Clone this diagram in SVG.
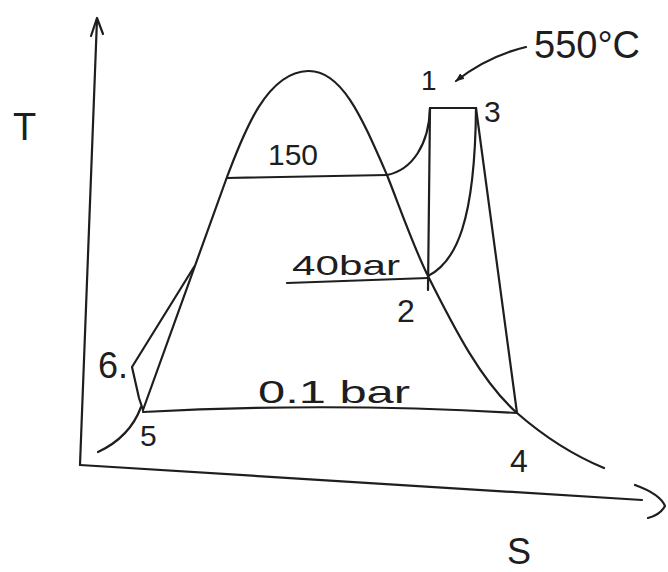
<svg xmlns="http://www.w3.org/2000/svg" width="668" height="572" viewBox="0 0 668 572">
<defs>
<style>
.ln{fill:none;stroke:#1e1e1e;stroke-width:2.2;stroke-linecap:round;stroke-linejoin:round}
.lb{font-family:"Liberation Sans",Arial,sans-serif;fill:#1e1e1e}
</style>
<marker id="ah" viewBox="0 0 10 10" refX="9" refY="5" markerWidth="9" markerHeight="9" orient="auto" markerUnits="userSpaceOnUse">
<path d="M0,1 L10,5 L0,9 Z" fill="#1e1e1e"/>
</marker>
</defs>
<rect width="668" height="572" fill="#ffffff"/>
<g id="axes">
<path class="ln" d="M80,465 L97,19"/>
<path class="ln" d="M91,36 L97,18 L103,34"/>
<path class="ln" d="M80,465 L642,500"/>
<path class="ln" d="M635,485 Q660,494 665,506 Q660,515 648,518"/>
</g>
<g id="dome">
<path class="ln" d="M143,410 L227,177 C242,138 265,72 308,71 C342,70 362,118 387,175 C400,208 414,248 428,276 C455,330 482,382 517,413 C548,440 575,456 604,468"/>
<path class="ln" d="M141,407 Q130,437 98,452"/>
</g>
<g id="cycle">
<path class="ln" d="M227,178 L387,175"/>
<path class="ln" d="M387,175 C412,170 429,145 430,108"/>
<path class="ln" d="M430,108 L476,108"/>
<path class="ln" d="M430,108 L428,290"/>
<path class="ln" d="M428,276 C456,262 475,222 476,108"/>
<path class="ln" d="M476,108 L517,413"/>
<path class="ln" d="M287,283 L428,278"/>
<path class="ln" d="M143,412 Q330,402 517,413"/>
<path class="ln" d="M143,410 L139,398 L132,367 L194,267"/>
</g>
<g id="connectors">
<path class="ln" d="M526,47 Q488,56 456,81" marker-end="url(#ah)"/>
</g>
<g id="labels">
<text class="lb" x="13" y="140" font-size="38">T</text>
<text class="lb" x="534" y="58" font-size="38">550°C</text>
<text class="lb" x="421" y="90" font-size="28">1</text>
<text class="lb" x="484" y="122" font-size="30">3</text>
<text class="lb" x="268" y="165" font-size="30">150</text>
<text class="lb" x="292" y="275" font-size="28" textLength="108" lengthAdjust="spacingAndGlyphs">40bar</text>
<text class="lb" x="397" y="322" font-size="32">2</text>
<text class="lb" x="98" y="378" font-size="36">6.</text>
<text class="lb" x="258" y="403" font-size="32" textLength="152" lengthAdjust="spacingAndGlyphs">0.1 bar</text>
<text class="lb" x="140" y="446" font-size="30">5</text>
<text class="lb" x="510" y="472" font-size="32">4</text>
<text class="lb" x="507" y="564" font-size="36">S</text>
</g>
</svg>
